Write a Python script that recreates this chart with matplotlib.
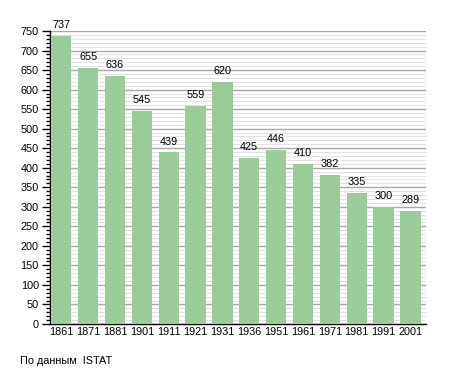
import matplotlib
matplotlib.use("Agg")
import matplotlib.pyplot as plt
from matplotlib.ticker import MultipleLocator
import numpy as np

years = ["1861", "1871", "1881", "1901", "1911", "1921", "1931",
         "1936", "1951", "1961", "1971", "1981", "1991", "2001"]
population = [737, 655, 636, 545, 439, 559, 620, 425, 446, 410, 382, 335, 300, 289]
source_note = "По данным  ISTAT"

plt.rcParams['font.family'] = ['Liberation Sans', 'DejaVu Sans']

fig = plt.figure(figsize=(4.55, 3.73), dpi=100)
ax = fig.add_axes([50/455, 49/373, 376/455, 293/373])

x = np.arange(len(years))
bars = ax.bar(x + 0.04, population, width=0.76, align='edge',
              color='#99CC99', zorder=3)

ax.set_xlim(0, len(years))
ax.set_ylim(0, 750)

ax.yaxis.set_major_locator(MultipleLocator(50))
ax.yaxis.set_minor_locator(MultipleLocator(10))
ax.grid(which='major', axis='y', color='#a8a8a8', linewidth=1.0, zorder=1)
ax.grid(which='minor', axis='y', color='#e2e2e2', linewidth=0.8, zorder=0)
ax.set_axisbelow(True)

ax.set_xticks(x + 0.42)
ax.set_xticklabels(years)
ax.tick_params(axis='x', length=0, pad=2, labelsize=7.8)
ax.tick_params(axis='y', which='major', length=6, width=1, labelsize=7.8, pad=2)
ax.tick_params(axis='y', which='minor', length=3, width=1)

for s in ['top', 'right']:
    ax.spines[s].set_visible(False)
ax.spines['left'].set_linewidth(1)
ax.spines['bottom'].set_linewidth(1)

for xi, v in zip(x, population):
    ax.text(xi + 0.42, v + 15, str(v), ha='center', va='bottom', fontsize=7.8)

fig.text(20/455, 1 - 361/373, source_note, ha='left', va='center', fontsize=7.8)

fig.savefig("out.png", dpi=100)
